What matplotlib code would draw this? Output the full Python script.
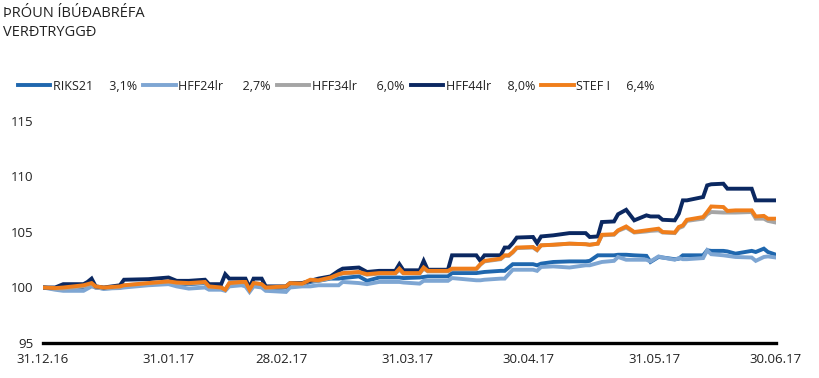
import matplotlib
matplotlib.use("Agg")
import matplotlib.pyplot as plt
import pandas as pd

title_lines = ["ÞRÓUN ÍBÚÐABRÉFA", "VERÐTRYGGÐ"]

dates = [
    "2016-12-31", "2017-01-03", "2017-01-05", "2017-01-10", "2017-01-11", "2017-01-12",
    "2017-01-13", "2017-01-15", "2017-01-19", "2017-01-20", "2017-01-26", "2017-01-31",
    "2017-02-02", "2017-02-05", "2017-02-09", "2017-02-10", "2017-02-13", "2017-02-14",
    "2017-02-15", "2017-02-18", "2017-02-19", "2017-02-20", "2017-02-21", "2017-02-23",
    "2017-02-24", "2017-03-01", "2017-03-02", "2017-03-05", "2017-03-07", "2017-03-09",
    "2017-03-12", "2017-03-14", "2017-03-15", "2017-03-19", "2017-03-21", "2017-03-24",
    "2017-03-28", "2017-03-29", "2017-03-30", "2017-04-03", "2017-04-04", "2017-04-05",
    "2017-04-10", "2017-04-11", "2017-04-17", "2017-04-18", "2017-04-19", "2017-04-23",
    "2017-04-24", "2017-04-25", "2017-04-26", "2017-04-27", "2017-05-01", "2017-05-02",
    "2017-05-03", "2017-05-06", "2017-05-10", "2017-05-14", "2017-05-15", "2017-05-17",
    "2017-05-18", "2017-05-21", "2017-05-22", "2017-05-24", "2017-05-26", "2017-05-29",
    "2017-05-30", "2017-06-01", "2017-06-02", "2017-06-05", "2017-06-06", "2017-06-07",
    "2017-06-08", "2017-06-12", "2017-06-13", "2017-06-14", "2017-06-17", "2017-06-18",
    "2017-06-20", "2017-06-24", "2017-06-25", "2017-06-27", "2017-06-28", "2017-06-30",
]

riks21 = [
    100.0, 99.9, 99.8, 100.0, 100.1, 100.2, 100.0, 99.9, 100.0, 100.1, 100.3, 100.45,
    100.35, 100.3, 100.4, 100.0, 99.95, 99.8, 100.3, 100.4, 100.4, 99.75, 100.3, 100.2,
    99.9, 100.0, 100.3, 100.25, 100.5, 100.6, 100.8, 100.8, 100.85, 101.0, 100.6, 100.9,
    100.9, 100.9, 100.85, 100.9, 100.95, 101.0, 101.0, 101.3, 101.3, 101.35, 101.4, 101.5,
    101.5, 101.8, 102.1, 102.1, 102.1, 102.0, 102.15, 102.3, 102.35, 102.35, 102.4, 102.9,
    102.9, 102.9, 102.95, 102.95, 102.9, 102.85, 102.3, 102.75, 102.7, 102.55, 102.6, 102.9,
    102.9, 102.9, 103.35, 103.3, 103.3, 103.25, 103.05, 103.3, 103.2, 103.5, 103.2, 102.95,
]

hff24 = [
    100.0, 99.8, 99.7, 99.7, 99.9, 100.1, 100.0, 99.9, 99.95, 100.0, 100.2, 100.3,
    100.1, 99.9, 100.0, 99.8, 99.8, 99.7, 100.1, 100.2, 100.1, 99.6, 100.1, 100.0,
    99.7, 99.6, 100.0, 100.1, 100.1, 100.2, 100.2, 100.2, 100.5, 100.4, 100.3, 100.5,
    100.5, 100.5, 100.45, 100.35, 100.6, 100.6, 100.6, 100.85, 100.65, 100.65, 100.7, 100.8,
    100.8, 101.2, 101.6, 101.6, 101.6, 101.5, 101.85, 101.9, 101.8, 102.0, 102.0, 102.2,
    102.3, 102.4, 102.75, 102.5, 102.5, 102.5, 102.35, 102.8, 102.7, 102.5, 102.65, 102.55,
    102.55, 102.65, 103.35, 103.0, 102.9, 102.85, 102.75, 102.7, 102.4, 102.75, 102.8, 102.7,
]

hff34 = [
    100.0, 99.9, 99.9, 100.1, 100.2, 100.3, 100.0, 99.95, 100.05, 100.2, 100.35, 100.5,
    100.4, 100.35, 100.45, 100.05, 100.0, 99.8, 100.35, 100.45, 100.45, 99.8, 100.4, 100.3,
    99.95, 100.05, 100.3, 100.3, 100.6, 100.6, 100.85, 101.15, 101.25, 101.35, 101.15, 101.25,
    101.25, 101.6, 101.25, 101.25, 101.7, 101.45, 101.45, 101.65, 101.65, 102.05, 102.35, 102.55,
    102.85, 102.85, 103.15, 103.55, 103.6, 103.35, 103.8, 103.85, 103.95, 103.9, 103.85, 103.95,
    104.7, 104.75, 105.1, 105.4, 104.95, 105.05, 105.1, 105.15, 104.95, 104.9, 105.35, 105.5,
    106.0, 106.2, 106.6, 106.8, 106.75, 106.75, 106.75, 106.8, 106.2, 106.2, 106.0, 105.85,
]

hff44 = [
    100.0, 100.0, 100.3, 100.3, 100.5, 100.8, 100.1, 100.0, 100.2, 100.7, 100.75, 100.9,
    100.6, 100.6, 100.7, 100.3, 100.3, 101.2, 100.8, 100.8, 100.8, 100.0, 100.8, 100.8,
    100.1, 100.1, 100.4, 100.4, 100.6, 100.8, 101.0, 101.5, 101.7, 101.8, 101.4, 101.5,
    101.5, 102.1, 101.55, 101.55, 102.4, 101.6, 101.6, 102.9, 102.9, 102.4, 102.9, 102.9,
    103.6, 103.6, 104.0, 104.5, 104.55, 104.0, 104.6, 104.7, 104.9, 104.9, 104.55, 104.6,
    105.9, 105.95, 106.6, 107.0, 106.05, 106.5, 106.4, 106.4, 106.1, 106.05, 106.65, 107.85,
    107.85, 108.15, 109.2, 109.3, 109.35, 108.9, 108.9, 108.9, 107.85, 107.85, 107.85, 107.85,
]

stef1 = [
    100.0, 99.95, 100.0, 100.2, 100.3, 100.4, 100.1, 100.0, 100.1, 100.2, 100.4, 100.55,
    100.45, 100.4, 100.5, 100.1, 100.0, 99.8, 100.4, 100.5, 100.5, 99.8, 100.4, 100.3,
    100.0, 100.1, 100.4, 100.35, 100.7, 100.65, 100.9, 101.2, 101.3, 101.4, 101.2, 101.3,
    101.3, 101.7, 101.3, 101.3, 101.8, 101.5, 101.5, 101.7, 101.7, 102.1, 102.4, 102.6,
    102.9, 102.9, 103.2, 103.6, 103.65, 103.4, 103.8, 103.85, 103.95, 103.9, 103.85, 103.95,
    104.75, 104.8, 105.15, 105.5, 105.0, 105.15, 105.2, 105.3, 105.0, 104.95, 105.45, 105.6,
    106.1, 106.35, 106.8, 107.3, 107.25, 106.9, 106.95, 106.95, 106.4, 106.45, 106.2, 106.2,
]

series_names = ["RIKS21     3,1%", "HFF24lr      2,7%", "HFF34lr      6,0%", "HFF44lr     8,0%", "STEF I     6,4%"]
series_values = [riks21, hff24, hff34, hff44, stef1]
series_colors = ["#1F67AE", "#7EA6D3", "#A5A5A5", "#0B2861", "#F07E1B"]

x_tick_dates = ["2016-12-31", "2017-01-31", "2017-02-28", "2017-03-31", "2017-04-30", "2017-05-31", "2017-06-30"]
x_tick_labels = ["31.12.16", "31.01.17", "28.02.17", "31.03.17", "30.04.17", "31.05.17", "30.06.17"]
y_ticks = [95, 100, 105, 110, 115]

plt.rcParams['font.family'] = ['Open Sans', 'DejaVu Sans']

fig = plt.figure(figsize=(8.19, 3.78), dpi=100)
ax = fig.add_axes([43 / 819, 1 - 343 / 378, (776 - 43) / 819, (343 - 121) / 378])

x = pd.to_datetime(dates)
for name, vals, col in zip(series_names, series_values, series_colors):
    ax.plot(x, vals, color=col, lw=2.8, label=name, solid_joinstyle='miter')

ax.set_ylim(95, 115)
ax.set_xlim(pd.Timestamp(x_tick_dates[0]), pd.Timestamp(x_tick_dates[-1]))
ax.set_yticks(y_ticks)
ax.set_yticklabels([str(v) for v in y_ticks])
ax.set_xticks(pd.to_datetime(x_tick_dates))
ax.set_xticklabels(x_tick_labels)
ax.tick_params(axis='both', length=0, labelsize=9.5, colors='#222222')
ax.tick_params(axis='y', pad=7)
ax.tick_params(axis='x', pad=7)
for s in ['top', 'right', 'left']:
    ax.spines[s].set_visible(False)
ax.spines['bottom'].set_linewidth(2.4)
ax.spines['bottom'].set_color('black')

fig.text(0.004, 0.985, "\n".join(title_lines), ha='left', va='top', fontsize=10.5, color='#222222', linespacing=1.4)

leg = fig.legend(loc='center left', bbox_to_anchor=(0.008, 1 - 86 / 378), ncol=5, frameon=False,
                 fontsize=9, handlelength=2.6, handletextpad=0.2, columnspacing=0.5)
for t in leg.get_texts():
    t.set_color('#222222')

fig.savefig("out.png", dpi=100)
